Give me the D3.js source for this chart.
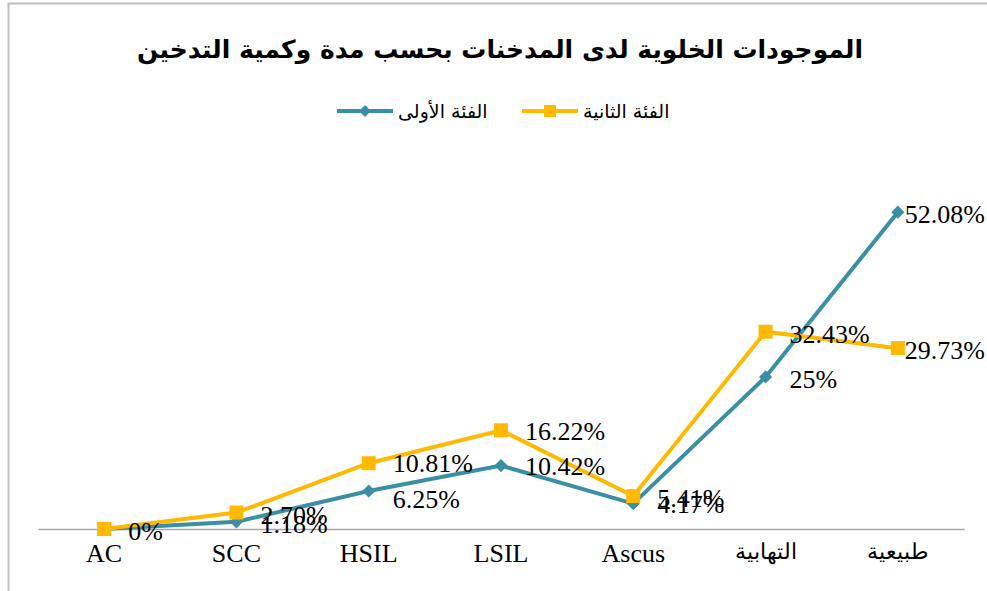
<!DOCTYPE html>
<html>
<head>
<meta charset="utf-8">
<script src="https://cdn.jsdelivr.net/npm/d3@7"></script>
<style>
  body { margin: 0; background: #fff; }
  svg { display: block; }
</style>
</head>
<body>
<div class="chart"></div>
<script>
// DATA ------------------------------------
const categories = ["AC", "SCC", "HSIL", "LSIL", "Ascus", "التهابية", "طبيعية"];
const seriesNames = ["الفئة الأولى", "الفئة الثانية"];
const group1 = [0, 1.18, 6.25, 10.42, 4.17, 25, 52.08];
const group2 = [0, 2.70, 10.81, 16.22, 5.41, 32.43, 29.73];
const labels1 = ["", "1.18%", "6.25%", "10.42%", "4.17%", "25%", "52.08%"];
const labels2 = ["0%", "2.70%", "10.81%", "16.22%", "5.41%", "32.43%", "29.73%"];

// CHART INIT ------------------------------
const W = 987, H = 591;
const teal = "#3a8fa4", gold = "#ffb900";

const svg = d3.select(".chart").append("svg")
    .attr("width", W)
    .attr("height", H);

// outer frame
svg.append("rect")
    .attr("x", 8.5).attr("y", 3.5)
    .attr("width", W + 10).attr("height", H + 10)
    .attr("fill", "none")
    .attr("stroke", "#bfbfbf")
    .attr("stroke-width", 2);

const xScale = d3.scaleBand()
    .domain(categories)
    .range([38, 964]);

const yScale = d3.scaleLinear()
    .domain([0, 60])
    .range([529, 164]);

// title
svg.append("text")
    .attr("x", 500).attr("y", 58)
    .attr("text-anchor", "middle")
    .attr("direction", "rtl")
    .style("font-family", "'DejaVu Sans', sans-serif")
    .style("font-weight", "bold")
    .style("font-size", "25px")
    .text("الموجودات الخلوية لدى المدخنات بحسب مدة وكمية التدخين");

// x axis
const xAxis = svg.append("g")
    .attr("class", "axis x-axis")
    .attr("transform", "translate(0,529)")
    .call(d3.axisBottom(xScale).tickSize(0).tickPadding(10));
xAxis.select(".domain").attr("stroke", "#a6a6a6").attr("stroke-width", 1.5);
xAxis.selectAll("text")
    .attr("fill", "#000")
    .attr("dy", "0.9em")
    .style("font-family", "'Liberation Serif', 'DejaVu Serif', serif")
    .style("font-size", d => /[A-Za-z]/.test(d) ? "26px" : "22px");

// lines + markers
const line = d3.line()
    .x((d, i) => xScale(categories[i]) + xScale.bandwidth() / 2)
    .y(d => yScale(d));

const cx = i => xScale(categories[i]) + xScale.bandwidth() / 2;

svg.append("path")
    .datum(group1)
    .attr("fill", "none")
    .attr("stroke", teal)
    .attr("stroke-width", 4)
    .attr("d", line);

svg.selectAll(".m1")
    .data(group1)
    .enter().append("path")
    .attr("class", "m1")
    .attr("transform", (d, i) => "translate(" + cx(i) + "," + yScale(d) + ")")
    .attr("d", d3.symbol(d3.symbolDiamond2, 110))
    .attr("fill", teal);

svg.append("path")
    .datum(group2)
    .attr("fill", "none")
    .attr("stroke", gold)
    .attr("stroke-width", 4)
    .attr("d", line);

svg.selectAll(".m2")
    .data(group2)
    .enter().append("rect")
    .attr("class", "m2")
    .attr("x", (d, i) => cx(i) - 7)
    .attr("y", d => yScale(d) - 7)
    .attr("width", 14).attr("height", 14)
    .attr("fill", gold);

// data labels
function addLabels(values, texts, dys) {
    svg.selectAll(null)
        .data(values)
        .enter().append("text")
        .attr("y", (d, i) => yScale(d) + dys[i])
        .attr("dy", "0.35em")
        .style("font-family", "'Liberation Serif', 'DejaVu Serif', serif")
        .style("font-size", "26px")
        .attr("fill", "#000")
        .text((d, i) => texts[i])
        .attr("x", function(d, i) {
            const w = this.getComputedTextLength();
            return Math.min(cx(i) + 24, 985 - w);
        });
}
addLabels(group1, labels1, [0, 2, 8, 0, 0, 2, 2]);
addLabels(group2, labels2, [2, 2, 0, 1, 2, 2, 2]);

// legend
const legend = [
    {name: seriesNames[0], color: teal, x: 337, sym: "diamond"},
    {name: seriesNames[1], color: gold, x: 522, sym: "square"}
];
legend.forEach(l => {
    svg.append("line")
        .attr("x1", l.x).attr("x2", l.x + 56)
        .attr("y1", 111).attr("y2", 111)
        .attr("stroke", l.color).attr("stroke-width", 4);
    if (l.sym === "diamond") {
        svg.append("path")
            .attr("transform", "translate(" + (l.x + 28) + ",111)")
            .attr("d", d3.symbol(d3.symbolDiamond2, 90))
            .attr("fill", l.color);
    } else {
        svg.append("rect")
            .attr("x", l.x + 22).attr("y", 105)
            .attr("width", 12).attr("height", 12)
            .attr("fill", l.color);
    }
    svg.append("text")
        .attr("x", l.x + 61).attr("y", 118)
        .attr("text-anchor", "start")
        .style("font-family", "'DejaVu Sans', sans-serif")
        .style("font-size", "19px")
        .attr("fill", "#000")
        .text(l.name);
});
</script>
</body>
</html>
